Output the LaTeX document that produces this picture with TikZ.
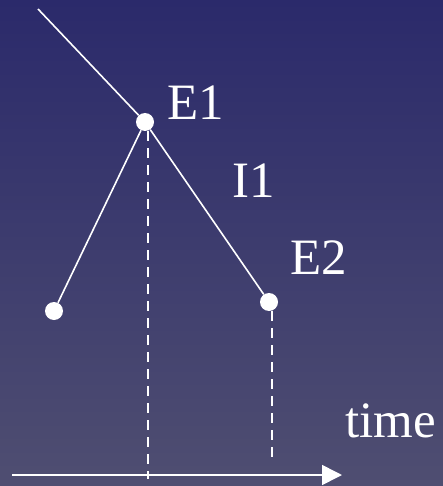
\documentclass[tikz,border=0pt]{standalone}
\usepackage{fontspec}
\setmainfont{Liberation Serif}
\usetikzlibrary{arrows.meta}
\definecolor{bgtop}{RGB}{43,42,107}
\definecolor{bgbot}{RGB}{79,78,113}
\tikzset{
  event/.style={circle, fill=white, minimum size=18pt, inner sep=0pt},
  lbl/.style={anchor=base west, inner sep=0pt, text=white, font=\fontsize{51}{51}\selectfont},
  wline/.style={white, line width=1.6pt},
  tick/.style={white, line width=1.6pt, dash pattern=on 10pt off 7pt}
}
\begin{document}
\begin{tikzpicture}[x=1pt, y=-1pt]
  % background
  \shade[top color=bgtop, bottom color=bgbot] (0,0) rectangle (443,486);
  \useasboundingbox (0,0) rectangle (443,486);
  % events
  \node[event] (e1) at (145,122) {};
  \node[event] (e0) at (54,311) {};
  \node[event] (e2) at (269,302) {};
  \coordinate (in) at (38,9);
  \coordinate (t0) at (12,475);
  \coordinate (t1) at (342,475);
  % labels
  \node[lbl] (le1) at (167,120) {E1};
  \node[lbl] (li1) at (232,197) {I1};
  \node[lbl] (le2) at (290,274) {E2};
  \node[lbl] (ltime) at (345,437) {time};
  % world lines
  \draw[wline] (in) -- (e1);
  \draw[wline] (e1) -- (e0);
  \draw[wline] (e1) -- (e2);
  % projections onto time axis
  \draw[tick] ([xshift=3pt]e1.south) -- ++(0,348);
  \draw[tick] ([xshift=3pt]e2.south) -- ++(0,152);
  % time axis
  \draw[wline, -{Triangle[length=20pt, width=20pt]}] (t0) -- (t1);
\end{tikzpicture}
\end{document}
